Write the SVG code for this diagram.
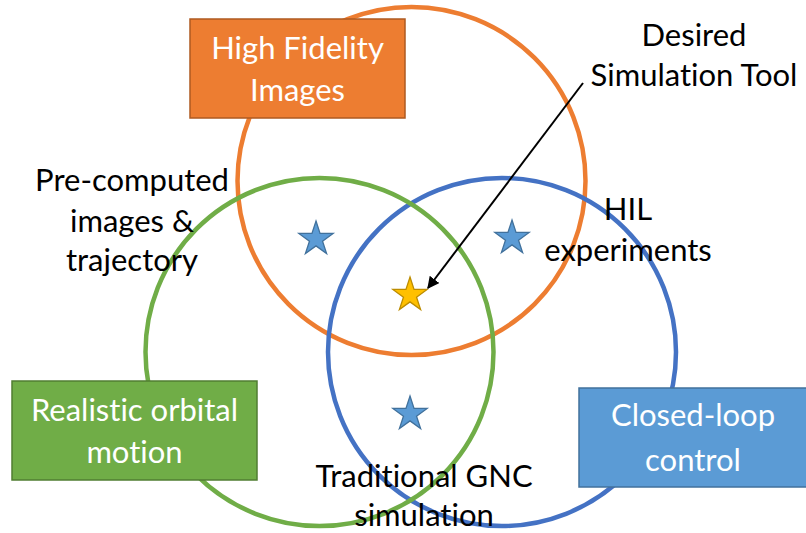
<svg xmlns="http://www.w3.org/2000/svg" width="806" height="533" viewBox="0 0 806 533">
<defs>
<style>
.c{fill:none;stroke-width:4.5}
.t{font-family:Lato,"Open Sans",sans-serif;font-size:31px;text-anchor:middle;fill:#000;font-variant-ligatures:none;font-feature-settings:"liga" 0}
.w{fill:#fff}
.star{stroke-width:1.3}
</style>
<path id="star" d="M0,-18 L4.04,-5.57 L17.12,-5.56 L6.54,2.13 L10.58,14.56 L0,6.88 L-10.58,14.56 L-6.54,2.13 L-17.12,-5.56 L-4.04,-5.57 Z"/>
<marker id="ah" viewBox="0 0 10 10" refX="9" refY="5" markerWidth="6" markerHeight="6" orient="auto" markerUnits="strokeWidth">
<path d="M0,0 L10,5 L0,10 Z" fill="#000"/>
</marker>
</defs>
<rect width="806" height="533" fill="#fff"/>
<g id="circles">
<circle id="circle-orange" class="c" cx="411.5" cy="181" r="174" stroke="#ED7D31"/>
<circle id="circle-blue" class="c" cx="502" cy="352" r="174" stroke="#4472C4"/>
<circle id="circle-green" class="c" cx="319.5" cy="352" r="174" stroke="#70AD47"/>
</g>
<g id="stars">
<use href="#star" class="star" x="316" y="239" fill="#5B9BD5" stroke="#41719C"/>
<use href="#star" class="star" x="512" y="238" fill="#5B9BD5" stroke="#41719C"/>
<use href="#star" class="star" x="410" y="414" fill="#5B9BD5" stroke="#41719C"/>
<use href="#star" class="star" x="410" y="295" fill="#FFC000" stroke="#BC8C00"/>
</g>
<g id="connectors">
<line x1="583" y1="83" x2="428" y2="288" stroke="#000" stroke-width="2" marker-end="url(#ah)"/>
</g>
<g id="node-high-fidelity">
<rect x="190" y="19" width="215" height="99" fill="#ED7D31" stroke="#AE5A21" stroke-width="1.5"/>
<text class="t w" x="297.5" y="59">High Fidelity</text>
<text class="t w" x="297.5" y="101">Images</text>
</g>
<g id="node-realistic-orbital">
<rect x="12" y="381" width="245" height="99" fill="#70AD47" stroke="#507E32" stroke-width="1.5"/>
<text class="t w" x="134.5" y="421">Realistic orbital</text>
<text class="t w" x="134.5" y="463">motion</text>
</g>
<g id="node-closed-loop">
<rect x="579" y="388" width="228" height="99" fill="#5B9BD5" stroke="#41719C" stroke-width="1.5"/>
<text class="t w" x="693" y="426">Closed-loop</text>
<text class="t w" x="693" y="471">control</text>
</g>
<g id="label-desired">
<text class="t" x="694" y="46">Desired</text>
<text class="t" x="694" y="86">Simulation Tool</text>
</g>
<g id="label-precomputed">
<text class="t" x="132" y="191">Pre-computed</text>
<text class="t" x="132" y="232">images &amp;</text>
<text class="t" x="132" y="271">trajectory</text>
</g>
<g id="label-hil">
<text class="t" x="628" y="220">HIL</text>
<text class="t" x="628" y="261">experiments</text>
</g>
<g id="label-traditional">
<text class="t" x="424" y="487">Traditional GNC</text>
<text class="t" x="424" y="526">simulation</text>
</g>
</svg>
